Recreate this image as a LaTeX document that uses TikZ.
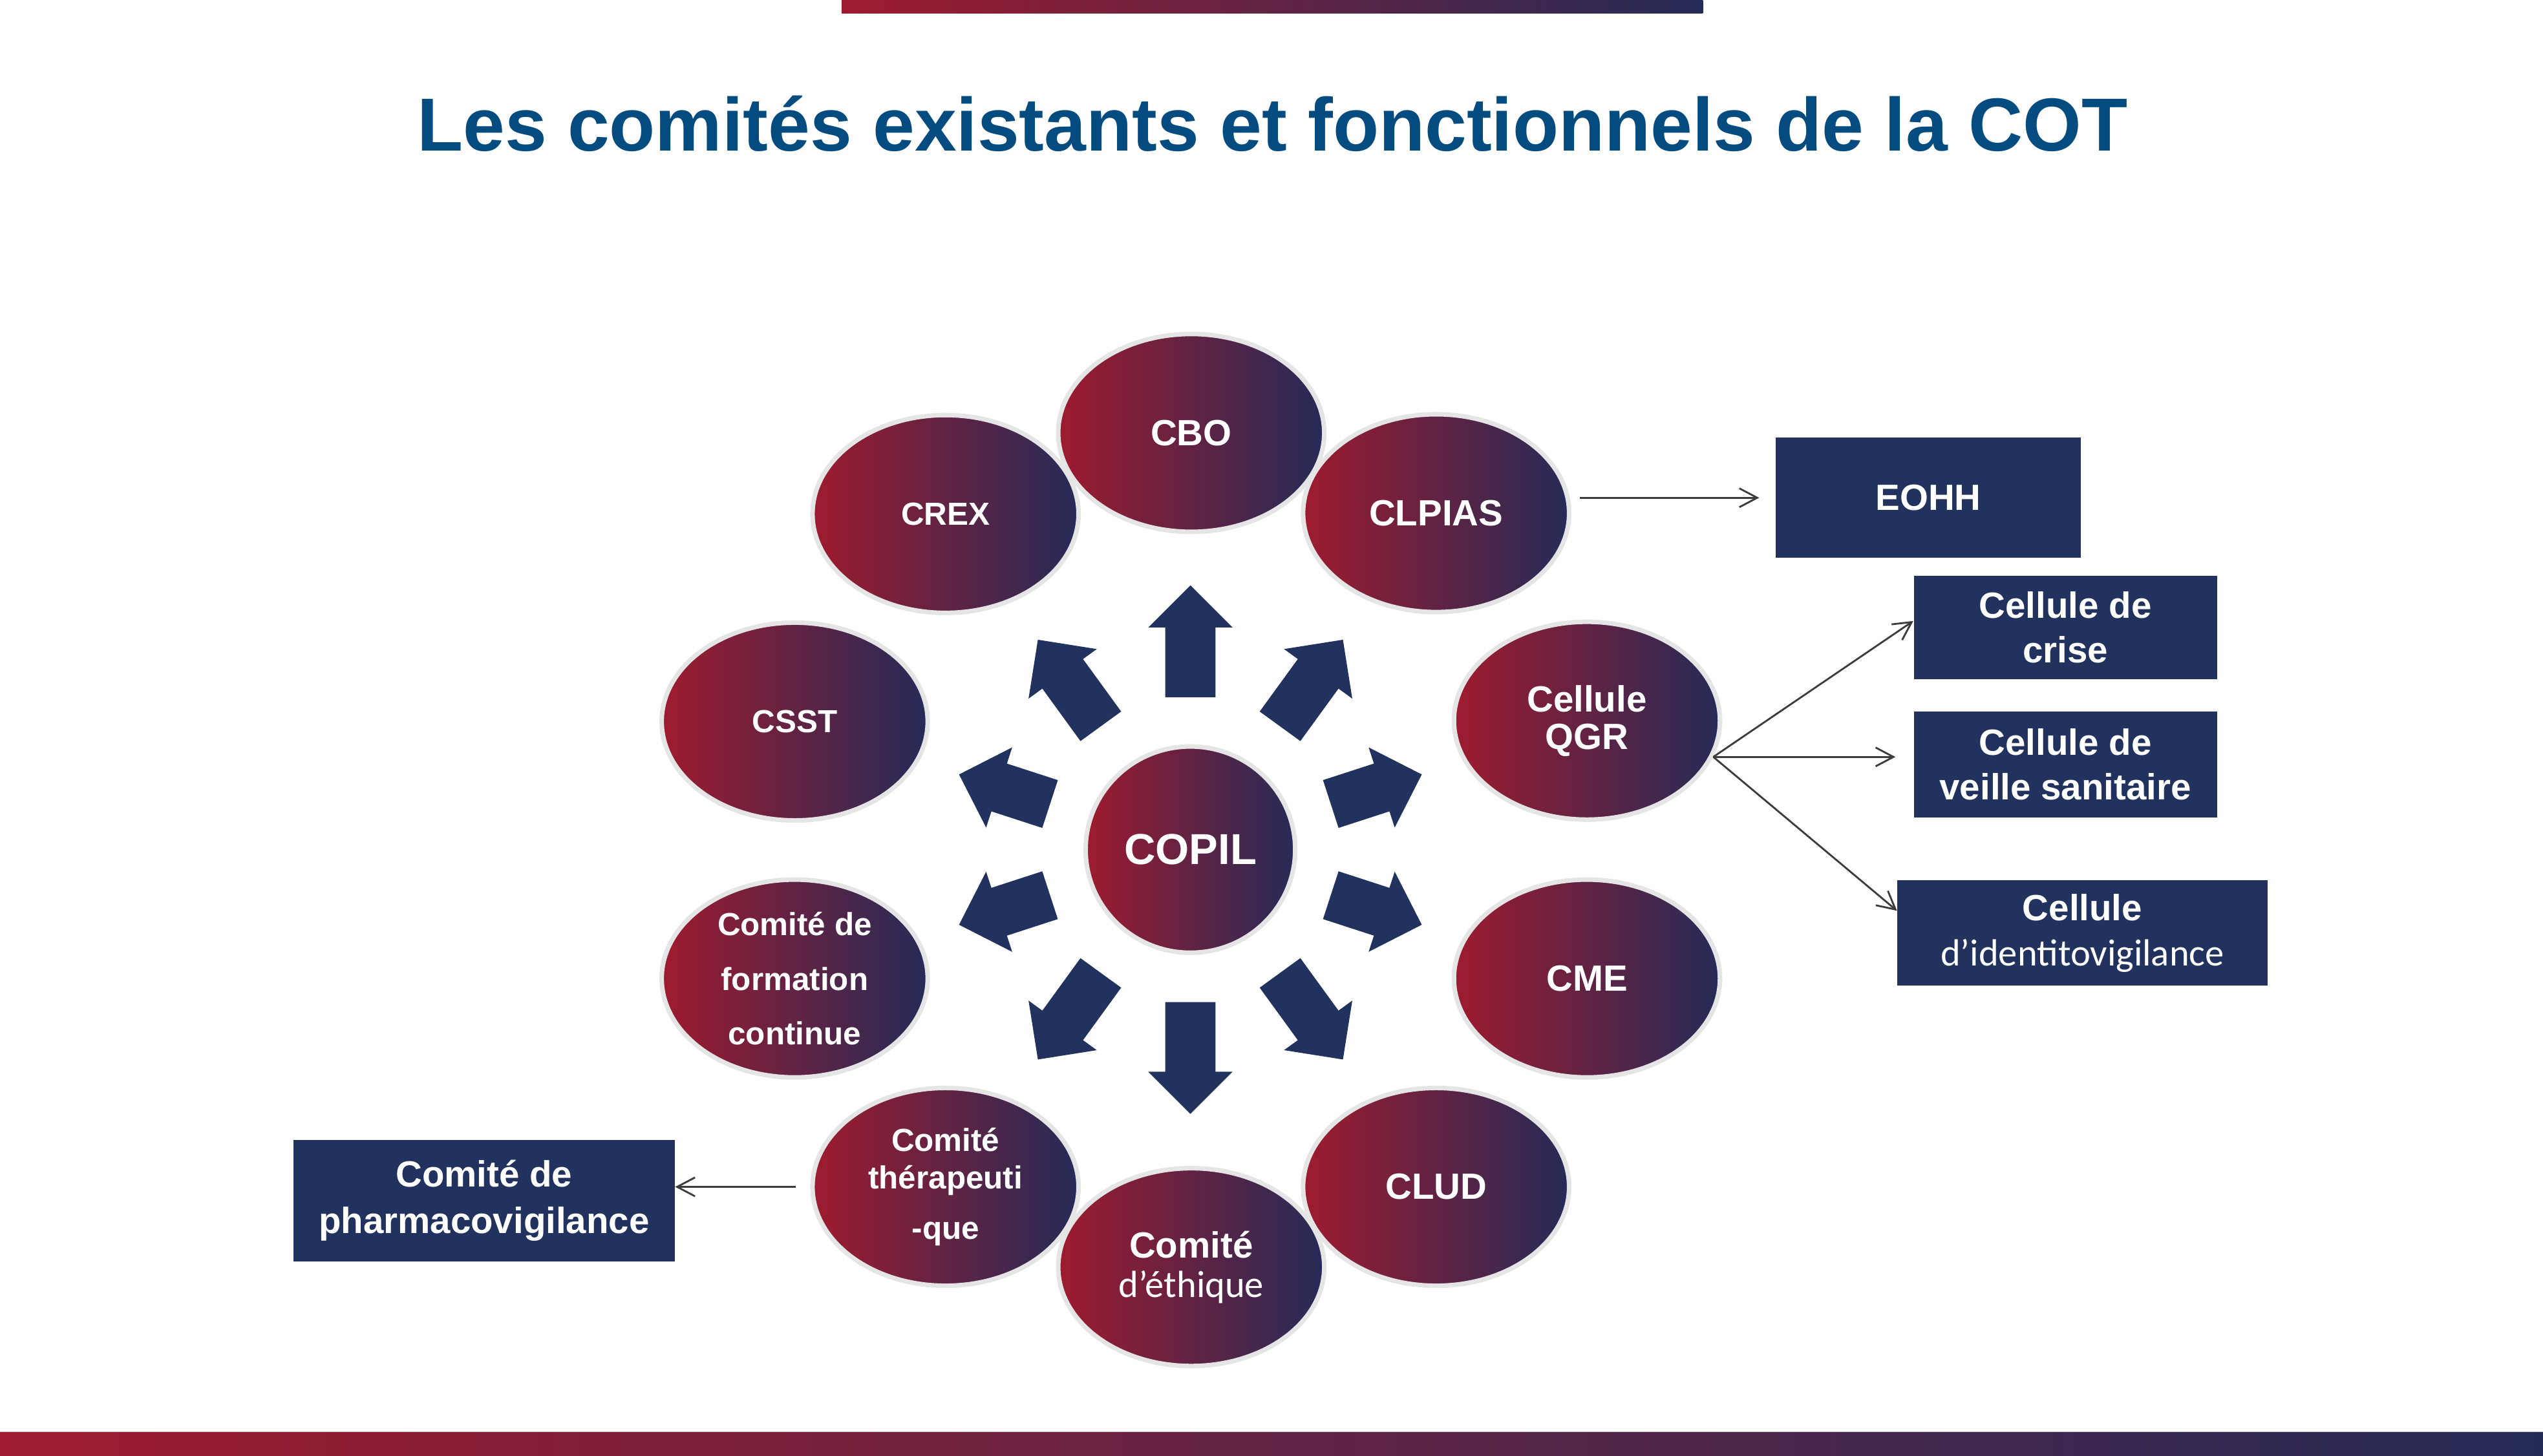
\documentclass[tikz,border=0pt]{standalone}
\usepackage{fontspec}
\setmainfont{Liberation Sans}
\newfontfamily\calibri{Carlito}
\usetikzlibrary{shapes.geometric,arrows.meta}
\definecolor{R}{RGB}{158, 27, 47}
\definecolor{N}{RGB}{34, 50, 95}
\definecolor{Nd}{RGB}{37, 43, 87}
\definecolor{T}{RGB}{4, 75, 128}
\definecolor{L}{RGB}{229, 229, 229}
\definecolor{K}{RGB}{60, 60, 60}

\tikzset{
  comite/.style={ellipse, draw=L, line width=2pt, left color=R, right color=Nd,
    minimum width=4.1cm, minimum height=3.05cm, inner sep=0pt, text=white,
    align=center, font=\bfseries\fontsize{16}{16.4}\selectfont},
  caja/.style={fill=N, text=white, align=center, inner sep=0pt,
    font=\bfseries\fontsize{16}{19.5}\selectfont},
  flecha/.style={draw=K, line width=0.8pt, -{Straight Barb[length=2.75mm,width=2.9mm]}}
}

\begin{document}
\begin{tikzpicture}[x=0.025cm, y=-0.025cm]
   	\useasboundingbox (0,0) rectangle (1568,898);

	%Barras de color arriba y abajo
   	\shade[left color=R, right color=Nd] (519,0) rectangle (1050,8);
   	\shade[left color=R, right color=Nd] (0,883) rectangle (1568,898);
   	\draw[color=black!25, line width=0.4pt] (0,883) -- (1568,883);

	%Titulo
   	\node[anchor=base, text=T, font=\bfseries\fontsize{33}{40}\selectfont] (titulo) at (784.5,93) {Les comités existants et fonctionnels de la COT};

	%Comites alrededor del COPIL (el orden importa por las superposiciones)
   	\node[comite, font=\bfseries\fontsize{14}{14}\selectfont] (crex) at (583,317) {CREX};
   	\node[comite] (cbo) at (734.5,267) {CBO};
   	\node[comite] (clpias) at (885.5,316.5) {CLPIAS};
   	\node[comite, font=\bfseries\fontsize{14}{14}\selectfont] (csst) at (490,445) {CSST};
   	\node[comite] (qgr) at (978.5,444.5) {Cellule\\QGR};
   	\node[comite, font=\bfseries\fontsize{14}{24}\selectfont] (formation) at (490,603.5) {Comité de\\formation\\continue};
   	\node[comite] (cme) at (978.5,603.5) {CME};
   	\node[comite, font=\bfseries\fontsize{14}{16.4}\selectfont] (ther) at (583,732) {Comité\\thérapeuti\\[5.5pt]-que};
   	\node[comite] (clud) at (885.5,732) {CLUD};
   	\node[comite, font=\bfseries\fontsize{16}{17.2}\selectfont] (ethique) at (734.5,781.5) {Comité\\{\calibri\mdseries\fontsize{16.6}{17.2}\selectfont d’éthique}};

	%Centro
   	\node[comite, minimum width=3.23cm, minimum height=3.18cm, font=\bfseries\fontsize{19}{19}\selectfont] (copil) at (734,524) {COPIL};

	%Flechas gruesas (angulo / inicio / largo)
   	\foreach \a/\r/\l in {90/94/69, 54/94/66, 18/91/59, -18/91/59, -54/94/66,
   	                      -90/94/69, -126/94/66, -162/91/59, 162/91/59, 126/94/66}
   		\fill[color=N, shift={(copil.center)}, rotate=\a]
   			(\r,-15.5) -- (\r+\l-26,-15.5) -- (\r+\l-26,-26) -- (\r+\l,0)
   			-- (\r+\l-26,26) -- (\r+\l-26,15.5) -- (\r,15.5) -- cycle;

	%Cajas
   	\node[caja, minimum width=4.7cm, minimum height=1.85cm] (eohh) at (1189,307) {EOHH};
   	\node[caja, minimum width=4.675cm, minimum height=1.6cm] (crise) at (1273.5,387) {Cellule de\\crise};
   	\node[caja, minimum width=4.675cm, minimum height=1.625cm] (veille) at (1273.5,471.5) {Cellule de\\veille sanitaire};
   	\node[caja, minimum width=5.7cm, minimum height=1.625cm, font=\bfseries\fontsize{16}{20}\selectfont] (ident) at (1284,575.5) {Cellule\\{\calibri\mdseries\fontsize{16.6}{20}\selectfont d’identitovigilance}};
   	\node[caja, minimum width=5.875cm, minimum height=1.875cm, font=\bfseries\fontsize{16}{20.6}\selectfont] (pharma) at (298.5,740.5) {Comité de\\pharmacovigilance};

	%Flechas finas
   	\draw[flecha, shorten <=1.25mm, shorten >=2.5mm] (clpias.east |- eohh.west) -- (eohh.west);
   	\draw[flecha] (qgr.-16) -- ([yshift=1mm]crise.west);
   	\draw[flecha, shorten >=2.75mm] (qgr.-16) -- (qgr.-16 -| veille.west);
   	\draw[flecha] (qgr.-16) -- ([yshift=-4.75mm]ident.north west);
   	\draw[flecha, shorten <=2.25mm] (ther.west) -- (ther.west -| pharma.east);
\end{tikzpicture}
\end{document}
